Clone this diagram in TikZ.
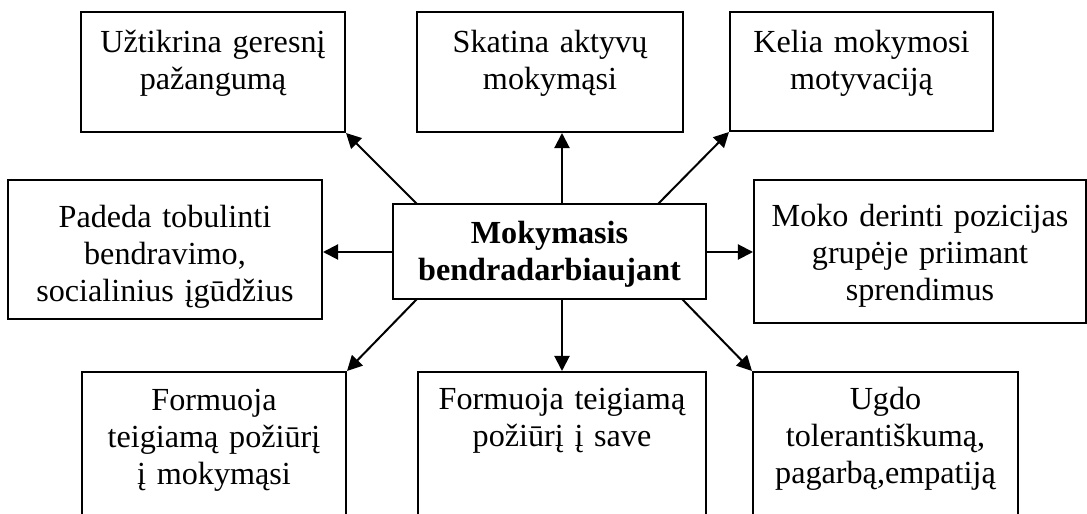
\documentclass[tikz,border=0pt]{standalone}
\usepackage{fontspec}
\setmainfont{Liberation Serif}
\usetikzlibrary{arrows.meta,fit,calc}
\begin{document}
\begin{tikzpicture}[x=0.3731pt,y=-0.3731pt,
  box/.style={draw,line width=0.75pt,inner sep=0pt},
  txt/.style={inner sep=0pt,align=center,anchor=base,text width=140pt,font=\fontsize{12pt}{13.8pt}\selectfont},
  arr/.style={line width=0.75pt,-{Triangle[length=5.6pt,width=5.6pt]}}]
\clip (0,0) rectangle (1087,514);
% boxes
\node[box,fit={(81,12)(345,132)}] (b1) {};
\node[box,fit={(417,12)(683,132)}] (b2) {};
\node[box,fit={(730,12)(993,131)}] (b3) {};
\node[box,fit={(8,180)(322,319)}] (b4) {};
\node[box,fit={(393,204)(706,299)}] (c) {};
\node[box,fit={(754,180)(1086,323)}] (b6) {};
\node[box,fit={(82,372)(346,540)}] (b7) {};
\node[box,fit={(418,372)(706,540)}] (b8) {};
\node[box,fit={(753,372)(1018,540)}] (b9) {};
% texts
\node[txt] (t1) at ($(b1.north)+(0,42)$) {Užtikrina geresnį\\pažangumą};
\node[txt] (t2) at ($(b2.north)+(0,42)$) {Skatina aktyvų\\mokymąsi};
\node[txt] (t3) at ($(b3.north)+(0,42)$) {Kelia mokymosi\\motyvaciją};
\node[txt] (t4) at ($(b4.north)+(0,49)$) {Padeda tobulinti\\bendravimo,\\socialinius įgūdžius};
\node[txt,font=\fontsize{12pt}{13.8pt}\selectfont\bfseries] (tc) at ($(c.north)+(0,41)$) {Mokymasis\\bendradarbiaujant};
\node[txt] (t6) at ($(b6.north)+(0,48)$) {Moko derinti pozicijas\\grupėje priimant\\sprendimus};
\node[txt] (t7) at ($(b7.north)+(0,40)$) {Formuoja\\teigiamą požiūrį\\į mokymąsi};
\node[txt] (t8) at ($(b8.north)+(0,39)$) {Formuoja teigiamą\\požiūrį į save};
\node[txt] (t9) at ($(b9.north)+(0,39)$) {Ugdo\\tolerantiškumą,\\pagarbą,empatiją};
% connector start points on the central box
\coordinate (s1) at (417,204);
\coordinate (s2) at (562,204);
\coordinate (s3) at (658,204);
\coordinate (s4) at (393,252);
\coordinate (s6) at (706,252);
\coordinate (s7) at (417,299);
\coordinate (s8) at (562,299);
\coordinate (s9) at (682,299);
% arrows
\draw[arr] (s1) -- (b1.south east);
\draw[arr] (s2) -- (s2 |- b2.south);
\draw[arr] (s3) -- (b3.south west);
\draw[arr] (s4) -- (s4 -| b4.east);
\draw[arr] (s6) -- (s6 -| b6.west);
\draw[arr] (s7) -- (b7.north east);
\draw[arr] (s8) -- (s8 |- b8.north);
\draw[arr] (s9) -- (b9.north west);
\end{tikzpicture}
\end{document}
